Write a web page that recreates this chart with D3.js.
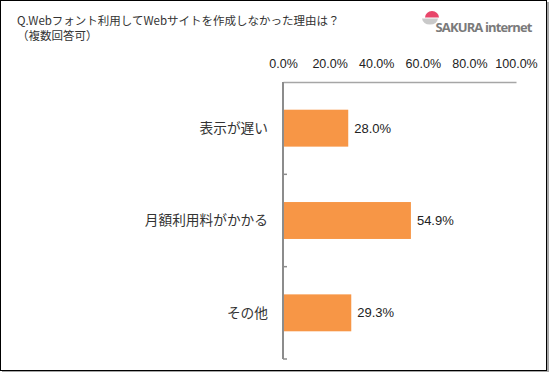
<!DOCTYPE html>
<html>
<head>
<meta charset="utf-8">
<script src="https://cdn.jsdelivr.net/npm/d3@7"></script>
<style>
  body { margin: 0; background: #fff; }
  svg { display: block; }
</style>
</head>
<body>
<div id="chart"></div>
<script>
// answers (multiple choice allowed)
const categories = ["表示が遅い", "月額利用料がかかる", "その他"];
const values = [28.0, 54.9, 29.3];
const xTicks = [0, 20, 40, 60, 80, 100];

const W = 549, H = 372;
const plot = { left: 283, right: 516, top: 82, bottom: 359 };

const svg = d3.select("#chart").append("svg")
    .attr("width", W)
    .attr("height", H);

// frame with a small shadow
svg.append("rect").attr("x", 2).attr("y", 2).attr("width", 547).attr("height", 370).attr("fill", "#a6a6a6");
svg.append("rect").attr("x", 0.5).attr("y", 0.5).attr("width", 546).attr("height", 370)
    .attr("fill", "#fff").attr("stroke", "#000").attr("stroke-width", 1);

// title
const title = svg.append("text")
    .attr("font-family", "'Noto Sans CJK JP', sans-serif")
    .attr("font-size", 11.5)
    .attr("fill", "#333");
title.append("tspan").attr("x", 17).attr("y", 25).text("Q.Webフォント利用してWebサイトを作成しなかった理由は？");
title.append("tspan").attr("x", 17).attr("y", 40).text("（複数回答可）");

// logo
const logo = svg.append("g");
logo.append("path")
    .attr("d", "M425,17.5 A7,6.5 0 0 1 439,17.5 Z")
    .attr("fill", "#e8466a");
logo.append("path")
    .attr("d", "M422,18.5 L438,18.5 Q437,24.5 430,24.5 Q423,24.5 422,18.5 Z")
    .attr("fill", "#c9c9c9");
logo.append("text")
    .attr("x", 435.5).attr("y", 32)
    .attr("font-family", "'Open Sans', 'DejaVu Sans', sans-serif")
    .attr("font-weight", "bold")
    .attr("font-size", 13)
    .attr("fill", "#7a7a7a")
    .attr("textLength", 97)
    .text("SAKURA internet");

const x = d3.scaleLinear().domain([0, 100]).range([plot.left, plot.right]);
const y = d3.scaleBand().domain(categories).range([plot.top, plot.bottom]).paddingInner(0.6).paddingOuter(0.3);
const yb = d3.scaleBand().domain(categories).range([plot.top, plot.bottom]);

// top axis
const xAxis = svg.append("g")
    .attr("transform", `translate(0,${plot.top})`)
    .call(d3.axisTop(x).tickValues(xTicks).tickSize(0).tickPadding(14).tickFormat(d => d.toFixed(1) + "%"));
xAxis.select(".domain").attr("stroke", "#a6a6a6").attr("stroke-width", 1.5);
xAxis.selectAll("text")
    .attr("font-family", "'Liberation Sans', Arial, sans-serif")
    .attr("font-size", 12.5)
    .attr("fill", "#222");

// bars
svg.selectAll(".bar")
    .data(categories)
    .enter().append("rect")
    .attr("class", "bar")
    .attr("x", x(0))
    .attr("y", d => y(d))
    .attr("width", (d, i) => x(values[i]) - x(0))
    .attr("height", y.bandwidth())
    .attr("fill", "#f79646");

// value labels
svg.selectAll(".val")
    .data(categories)
    .enter().append("text")
    .attr("class", "val")
    .attr("x", (d, i) => x(values[i]) + 6)
    .attr("y", d => y(d) + y.bandwidth() / 2)
    .attr("dy", "0.35em")
    .attr("font-family", "'Liberation Sans', Arial, sans-serif")
    .attr("font-size", 13)
    .attr("fill", "#222")
    .text((d, i) => values[i].toFixed(1) + "%");

// category axis
const cat = svg.append("g");
cat.append("line")
    .attr("x1", plot.left).attr("x2", plot.left)
    .attr("y1", plot.top).attr("y2", plot.bottom)
    .attr("stroke", "#8c8c8c").attr("stroke-width", 2);
cat.selectAll(".tk")
    .data(categories)
    .enter().append("line")
    .attr("x1", plot.left).attr("x2", plot.left + 4)
    .attr("y1", d => yb(d) + yb.bandwidth())
    .attr("y2", d => yb(d) + yb.bandwidth())
    .attr("stroke", "#8c8c8c").attr("stroke-width", 1.5);
cat.selectAll(".lbl")
    .data(categories)
    .enter().append("text")
    .attr("x", 268)
    .attr("y", d => y(d) + y.bandwidth() / 2)
    .attr("dy", "0.35em")
    .attr("text-anchor", "end")
    .attr("font-family", "'Noto Sans CJK JP', sans-serif")
    .attr("font-size", 13.7)
    .attr("fill", "#333")
    .text(d => d);
</script>
</body>
</html>
